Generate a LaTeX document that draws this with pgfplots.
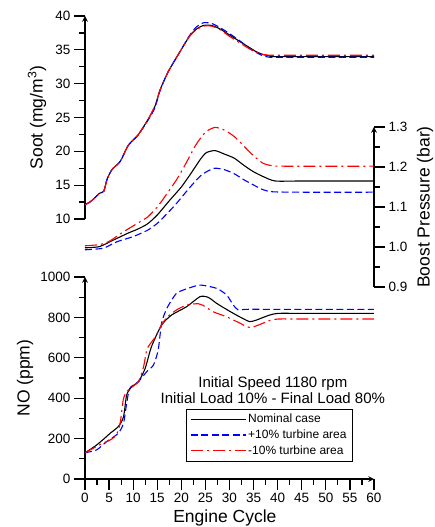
\documentclass[border=0pt]{standalone}
\usepackage{fontspec}
\setmainfont{Liberation Sans}
\usepackage{pgfplots}
\pgfplotsset{compat=1.18}

\tikzset{
  nom/.style={draw=black, line width=1.1pt, solid},
  plus/.style={draw=blue, line width=1.1pt, dash pattern=on 7pt off 3.5pt},
  minus/.style={draw=red, line width=1.1pt, dash pattern=on 12pt off 4pt on 2pt off 4pt},
}
\pgfplotsset{
  base/.style={
    scale only axis, width=289pt, xmin=0, xmax=60, clip=false,
    major tick length=11pt, minor tick length=6pt,
    every tick/.style={black, line width=1.2pt},
    axis line style={-, line width=1.5pt},
    tick label style={font=\fontsize{13.5}{16}\selectfont},
    /pgf/number format/assume math mode=true,
    /pgf/number format/1000 sep={},
    scaled ticks=false,
  },
}

\begin{document}
\begin{tikzpicture}
\useasboundingbox (0,0) rectangle (435pt,527pt);

% ---- soot (top, left axis)
\begin{axis}[base, at={(85pt,308pt)}, anchor=south west, height=203pt,
    ymin=10, ymax=40, axis x line=none, axis y line=left, tick align=outside,
    ytick={10,15,...,40}, minor y tick num=1,
    ylabel={Soot (mg/m\textsuperscript{3})},
    every axis y label/.style={at={(axis description cs:-0.166,0.5)}, anchor=center, rotate=90,
      font=\fontsize{17.5}{20}\selectfont}]
\addplot[nom, smooth, tension=0.4] table {
0 12.1
1 12.5
2 13.1
3 13.8
3.9 14.1
4.6 15.9
5.6 17.3
7.3 18.5
9 20.9
11 22.4
13 24.6
14.5 26.6
15.6 29.1
17.3 31.8
19.7 34.7
21.6 36.9
23 38.0
24.6 38.6
26.3 38.6
28 38.1
30 37.2
32.2 36.2
34 35.4
35.6 34.7
37 34.3
38.4 34.1
40 34.0
60 34.0
};
\addplot[plus, smooth, tension=0.4] table {
0 12.1
1 12.5
2 13.1
3 13.8
3.9 14.1
4.6 15.9
5.6 17.3
7.3 18.5
9 20.9
11 22.4
13 24.5
14.5 26.4
15.6 29.0
17.3 31.8
19.7 34.7
21.6 37.0
23 38.3
24.6 39.0
26.3 38.9
28 38.3
30 37.4
32.2 36.3
34 35.3
35.6 34.6
37 34.1
38.4 33.9
40 33.9
60 33.9
};
\addplot[minus, smooth, tension=0.4] table {
0 12.1
1 12.5
2 13.1
3 13.8
3.9 14.1
4.6 15.9
5.6 17.3
7.3 18.5
9 20.9
11 22.4
13 24.6
14.5 26.7
15.6 29.1
17.3 31.8
19.7 34.7
21.6 36.9
23 37.9
24.6 38.5
26.3 38.5
28 38.0
30 37.0
32.2 36.0
34 35.2
35.6 34.6
37 34.3
38.4 34.2
40 34.2
60 34.2
};
\end{axis}

% ---- boost pressure (top, right axis)
\begin{axis}[base, at={(85pt,240pt)}, anchor=south west, height=160pt,
    ymin=0.9, ymax=1.3, axis x line=none, axis y line=right, tick align=outside,
    ytick={0.9,1.0,1.1,1.2,1.3}, yticklabels={0.9,1.0,1.1,1.2,1.3}, minor y tick num=1,
    ylabel={Boost Pressure (bar)},
    every axis y label/.style={at={(axis description cs:1.1765,0.5)}, anchor=center, rotate=90,
      font=\fontsize{17.5}{20}\selectfont}]
\addplot[nom, smooth, tension=0.4] table {
0 0.998
3 1.001
6 1.018
9 1.035
11 1.045
13 1.058
15 1.080
17.6 1.117
20 1.150
22 1.184
24 1.220
25.2 1.236
27 1.241
29 1.232
31 1.222
33 1.204
35 1.188
37 1.176
39.5 1.165
45 1.165
60 1.165
};
\addplot[plus, smooth, tension=0.4] table {
0 0.993
3.8 0.997
6.6 1.013
10 1.026
13 1.042
15 1.059
17 1.083
19 1.109
21 1.138
22.5 1.159
24 1.178
25.5 1.190
27 1.197
29 1.193
31 1.183
33 1.168
35 1.155
37 1.143
39 1.138
45 1.137
60 1.137
};
\addplot[minus, smooth, tension=0.4] table {
0 1.003
3 1.006
5 1.014
8 1.038
11 1.060
13 1.075
15 1.100
17 1.133
19 1.168
21 1.210
23 1.255
25 1.287
27 1.299
29 1.292
31 1.276
33 1.252
35 1.228
37 1.209
39 1.203
41 1.202
60 1.202
};
\end{axis}

% ---- NO (bottom)
\begin{axis}[base, at={(85pt,48pt)}, anchor=south west, height=202pt,
    ymin=0, ymax=1000, axis x line=bottom, axis y line=left, tick align=outside,
    xtick={0,5,...,60}, minor x tick num=1,
    ytick={0,200,...,1000}, minor y tick num=1,
    ylabel={NO (ppm)}, xlabel={Engine Cycle},
    every axis y label/.style={at={(axis description cs:-0.2076,0.5)}, anchor=center, rotate=90,
      font=\fontsize{17.5}{20}\selectfont},
    every axis x label/.style={at={(axis description cs:0.484,-0.2129)}, anchor=base,
      font=\fontsize{17.5}{20}\selectfont},
    legend cell align=left,
    legend image code/.code={\draw[#1] (0pt,0pt) -- (55pt,0pt);},
    legend style={at={(0.349,0.3465)}, anchor=north west,
      inner xsep=4pt, inner ysep=3pt, row sep=1.5pt,
      font=\fontsize{12}{14}\selectfont}]
\addplot[color=black, nom, smooth, tension=0.4] table {
0 130
1 145
2.4 168
4 200
5.2 226
6.9 259
8 308
8.65 416
9.7 457
11.1 482
12.5 548
13.8 655
15.9 762
18 812
21.1 853
23.9 903
25.6 899
27.3 870
29 845
30.8 820
32.5 798
34.2 779
35.6 787
37 800
38.4 812
40.1 820
45 820
60 820
};
\addplot[color=blue, plus, smooth, tension=0.4] table {
0 130
2.4 144
4.5 185
6.9 226
8 276
8.65 375
9.3 449
11.1 482
12.8 531
14.2 564
15.2 639
15.9 771
17 845
19 919
21.8 947
24 960
27.3 944
29.4 911
30.8 861
31.8 837
33.5 840
40 840
60 840
};
\addplot[color=red, minus, smooth, tension=0.4] table {
0 130
1.7 152
3.5 175
5.2 193
6.5 218
7.3 276
8 399
9 441
11.1 482
12.2 560
12.9 645
14.5 700
15.9 762
17 800
19 837
21.1 861
23.5 868
24.5 860
26.6 828
29.4 803
32.2 771
33.5 755
34.5 750
36 762
38.4 785
40.1 792
45 792
60 792
};
\legend{Nominal case, +10\% turbine area, -10\% turbine area}
\node[font=\fontsize{15}{16}\selectfont, align=center] at (rel axis cs:0.65,0.4406)
  {Initial Speed 1180 rpm\\Initial Load 10\% - Final Load 80\%};
\end{axis}
\end{tikzpicture}
\end{document}
